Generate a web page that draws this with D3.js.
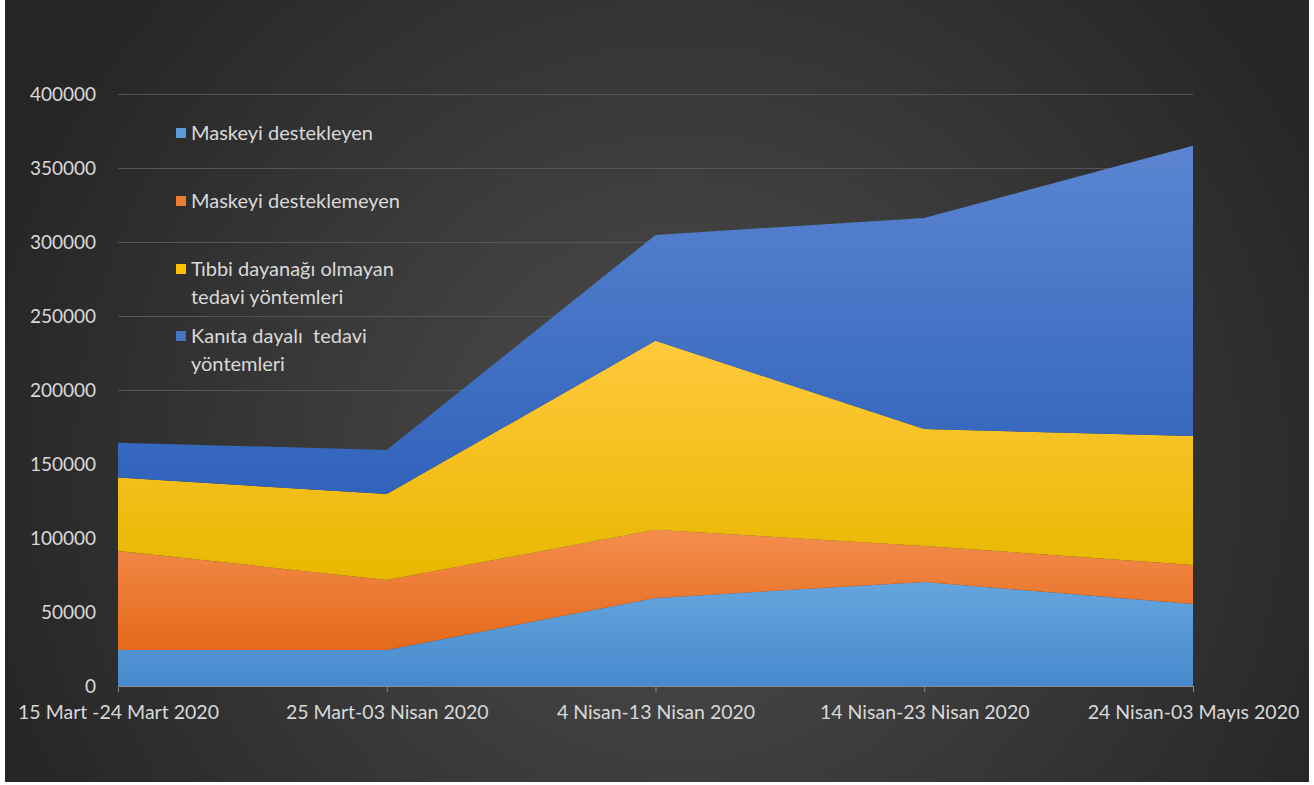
<!DOCTYPE html>
<html>
<head>
<meta charset="utf-8">
<script src="https://cdn.jsdelivr.net/npm/d3@7"></script>
<style>
  html, body { margin: 0; padding: 0; background: #ffffff; }
  svg { display: block; }
  text { font-family: Lato, "Noto Sans", sans-serif; fill: #d9d9d9; }
</style>
</head>
<body>
<div id="chart"></div>
<script>
const categories = ['15 Mart -24 Mart 2020', '25 Mart-03 Nisan 2020', '4 Nisan-13 Nisan 2020', '14 Nisan-23 Nisan 2020', '24 Nisan-03 Mayıs 2020'];
const seriesNames = ['Maskeyi destekleyen', 'Maskeyi desteklemeyen', 'Tıbbi dayanağı olmayan tedavi yöntemleri', 'Kanıta dayalı  tedavi yöntemleri'];
const legendLines = [['Maskeyi destekleyen'], ['Maskeyi desteklemeyen'], ['Tıbbi dayanağı olmayan', 'tedavi yöntemleri'], ['Kanıta dayalı  tedavi', 'yöntemleri']];
const destekleyen = [24300, 24300, 59500, 70300, 55400];
const desteklemeyen = [67000, 47300, 46000, 24300, 26400];
const tibbiOlmayan = [49500, 58100, 127700, 79000, 87200];
const kanitaDayali = [23600, 29800, 71600, 142600, 196000];
const yTicks = [0, 50000, 100000, 150000, 200000, 250000, 300000, 350000, 400000];

const colors = [
    ['#66a5de', '#4689cc'],
    ['#f48d4d', '#e4691a'],
    ['#ffc93d', '#e9b700'],
    ['#5b85d1', '#3063bb']
];
const swatch = ['#5b9bd5', '#ed7d31', '#ffc000', '#4472c4'];

const W = 1314, H = 785;
const svg = d3.select('#chart').append('svg')
    .attr('width', W)
    .attr('height', H);

const defs = svg.append('defs');
const bg = defs.append('radialGradient')
    .attr('id', 'bg')
    .attr('gradientUnits', 'userSpaceOnUse')
    .attr('cx', 680).attr('cy', 470).attr('r', 720);
bg.append('stop').attr('offset', '0%').attr('stop-color', '#4e4e4e');
bg.append('stop').attr('offset', '100%').attr('stop-color', '#262626');

colors.forEach((c, i) => {
    const g = defs.append('linearGradient')
        .attr('id', 'fill' + i)
        .attr('x1', 0).attr('y1', 0).attr('x2', 0).attr('y2', 1);
    g.append('stop').attr('offset', '0%').attr('stop-color', c[0]);
    g.append('stop').attr('offset', '100%').attr('stop-color', c[1]);
});

// panel
svg.append('rect')
    .attr('x', 5).attr('y', 0)
    .attr('width', 1304).attr('height', 782)
    .attr('fill', 'url(#bg)');

const x = d3.scalePoint()
    .domain(categories)
    .range([118, 1193]);
const y = d3.scaleLinear()
    .domain([0, 400000])
    .range([686, 94]);

// gridlines
svg.append('g')
    .selectAll('line')
    .data(yTicks.slice(1))
    .join('line')
    .attr('x1', x.range()[0])
    .attr('x2', x.range()[1])
    .attr('y1', d => y(d) + 0.5)
    .attr('y2', d => y(d) + 0.5)
    .attr('stroke', '#555555')
    .attr('stroke-width', 1);

// stacked areas
const table = categories.map((c, i) => ({
    cat: c,
    s0: destekleyen[i],
    s1: desteklemeyen[i],
    s2: tibbiOlmayan[i],
    s3: kanitaDayali[i]
}));
const stack = d3.stack().keys(['s0', 's1', 's2', 's3']);
const area = d3.area()
    .x(d => x(d.data.cat))
    .y0(d => y(d[0]))
    .y1(d => y(d[1]));

svg.append('g')
    .selectAll('path')
    .data(stack(table))
    .join('path')
    .attr('d', area)
    .attr('fill', (d, i) => `url(#fill${i})`);

// axes
const yAxis = svg.append('g')
    .attr('transform', `translate(${x.range()[0]},0)`)
    .call(d3.axisLeft(y).tickValues(yTicks).tickSize(0).tickPadding(22).tickFormat(d3.format('d')));
yAxis.select('.domain').remove();
yAxis.selectAll('text')
    .style('font-size', '19px')
    .attr('fill', '#d9d9d9');

const xAxis = svg.append('g')
    .attr('transform', `translate(0,${y(0)})`)
    .call(d3.axisBottom(x).tickSize(6).tickPadding(13).tickSizeOuter(0));
xAxis.select('.domain')
    .attr('d', `M${x.range()[0]},0.5H${x.range()[1]}`)
    .attr('stroke', '#8c8c8c');
xAxis.selectAll('.tick line').attr('stroke', '#8c8c8c');
xAxis.selectAll('text')
    .style('font-size', '19.5px')
    .attr('fill', '#d9d9d9');

// legend
const legendY = [133, 201, 269, 336];
const legend = svg.append('g');
legendLines.forEach((lines, i) => {
    legend.append('rect')
        .attr('x', 176).attr('y', legendY[i] - 5)
        .attr('width', 10).attr('height', 10)
        .attr('fill', swatch[i]);
    lines.forEach((t, j) => {
        legend.append('text')
            .attr('x', 191)
            .attr('y', legendY[i] + j * 28)
            .attr('dy', '0.35em')
            .style('font-size', '20px')
            .style('white-space', 'pre')
            .text(t);
    });
});
</script>
</body>
</html>
